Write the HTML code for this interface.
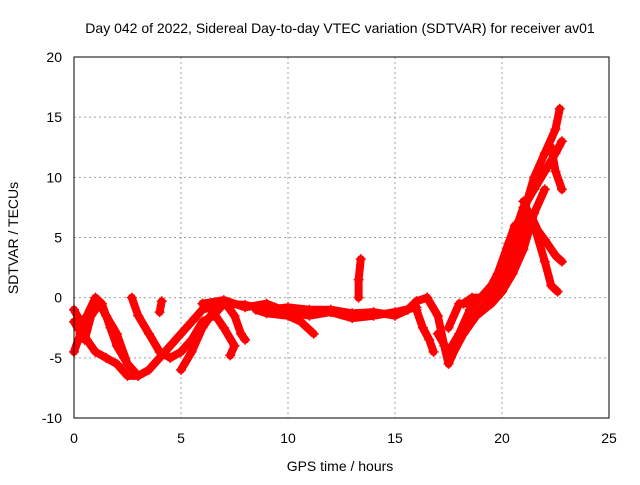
<!DOCTYPE html>
<html><head><meta charset="utf-8"><style>
body{margin:0;background:#fff}
svg{font-family:"Liberation Sans",sans-serif;font-size:14px}
</style></head><body>
<svg id="c" width="640" height="480">
<rect width="640" height="480" fill="#fff"/>
<text x="340" y="33" text-anchor="middle">Day 042 of 2022, Sidereal Day-to-day VTEC variation (SDTVAR) for receiver av01</text>
<g id="grid"></g>
<g id="marks"></g>
<rect x="74" y="57" width="535" height="361" fill="none" stroke="#000"/>
<g id="ticks"></g>
<text x="340" y="471" text-anchor="middle">GPS time / hours</text>
<text transform="translate(18,238) rotate(-90)" text-anchor="middle">SDTVAR / TECUs</text>
</svg>
<script>
const xTicks=[0,5,10,15,20,25];
const yTicks=[-10,-5,0,5,10,15,20];
const track1=[[0,-1],[0.3,-2],[0.6,-3.5],[1,-4.5],[1.5,-5],[2,-5.5],[2.5,-6.5],[3,-6.5],[3.5,-6],[4,-5],[4.5,-4],[5,-3],[5.5,-2],[6,-1],[7,-0.5],[8,-0.6],[9,-1],[10,-0.8],[11,-1],[12,-1],[13,-1.3],[14,-1.2],[15,-1.5],[15.6,-1],[16,-0.3],[16.5,0]];
const track2=[[0,-4.5],[0.3,-3],[0.6,-1.5],[1,0],[1.3,-0.5],[1.7,-2.5],[2,-4],[2.5,-5.5]];
const track3=[[0,-2],[0.5,-3.5],[0.8,-1.5],[1.2,-0.5],[1.5,-1.5],[2,-3],[2.5,-5.5],[3,-6.5]];
const track4=[[2.7,0],[3,-1.5],[3.5,-3],[4,-4.5],[4.5,-5],[5,-4.5],[5.5,-3.5],[6,-2],[6.5,-1.5],[7,-0.5]];
const track5=[[5,-6],[5.5,-4.5],[6,-2.5],[6.5,-1.2],[7,-2.5],[7.5,-4],[7.3,-4.8]];
const track6=[[7,-0.3],[7.5,-1.5],[7.8,-3],[8,-3.5]];
const track7=[[8.5,-1],[9,-1.3],[10,-1.5],[10.6,-2],[11.2,-3]];
const track8=[[13.3,0],[13.3,1.5],[13.4,3.2]];
const track9=[[4,-1.2],[4.1,-0.3]];
const track10=[[16.5,0],[17,-1.5],[17.3,-4],[17.5,-5.5],[18,-3.5],[18.5,-2],[19,-1],[19.5,0],[20,1.5],[20.5,4],[21,7],[21.5,10],[22,12],[22.5,14],[22.7,15.7]];
const track11=[[17,-3],[17.5,-4.5],[18,-3],[18.5,-1],[19,0],[19.5,1],[20,2.5],[20.5,5],[21,7.5],[21.5,9],[22,10.5],[22.5,12],[22.8,13]];
const track12=[[21,8],[21.5,6],[22,3],[22.3,1],[22.6,0.5]];
const track13=[[22.3,12.5],[22.5,10.5],[22.8,9]];
const track14=[[21.3,7],[21.7,5.5],[22,4.8],[22.5,3.5],[22.8,3]];
const track15=[[16,-1],[16.3,-2.5],[16.6,-3.5],[16.8,-4.5]];
const track16=[[17.5,-2.5],[18,-0.5],[18.5,-0.5],[19,-1],[19.5,-0.5],[20,1],[20.5,3],[21,5.5],[21.3,6.5]];
const track17=[[17.6,-5],[18.2,-3],[18.8,-1.5],[19.5,-0.5],[20,0.5],[20.5,2],[21,4],[21.5,7],[22,9]];
const track18=[[18.2,-0.5],[18.6,0],[19.2,0],[19.8,2],[20.3,4.5],[20.6,6],[21,6.5]];
const track19=[[6,-0.5],[7,-0.2],[8,-0.8],[9,-0.5],[10,-1.2],[11,-1.5],[12,-1.2],[13,-1.7],[14,-1.5],[15,-1.2],[16,-0.8]];
const tracks=[track1,track2,track3,track4,track5,track6,track7,track8,track9,track10,track11,track12,track13,track14,track15,track16,track17,track18,track19];
const X=t=>74+t*535/25, Y=v=>57+(20-v)*361/30;
const NS="http://www.w3.org/2000/svg";
const grid=document.getElementById('grid'),ticks=document.getElementById('ticks'),marks=document.getElementById('marks');
function mk(tag,a,p){const e=document.createElementNS(NS,tag);for(const k in a)e.setAttribute(k,a[k]);p.appendChild(e);return e;}
xTicks.forEach(t=>{
 if(t>0&&t<25){const g=mk('line',{x1:X(t),x2:X(t),y1:57,y2:418,stroke:'#a0a0a0','stroke-dasharray':'2,3'},grid);
 
 }
 const l=mk('text',{x:X(t),y:443,'text-anchor':'middle'},ticks);l.textContent=t;
 
 
});
yTicks.forEach(v=>{
 if(v>-10&&v<20){const g=mk('line',{x1:74,x2:609,y1:Y(v),y2:Y(v),stroke:'#a0a0a0','stroke-dasharray':'2,3'},grid);
 
 }
 const l=mk('text',{x:62,y:Y(v)+5,'text-anchor':'end'},ticks);l.textContent=v;
 
 
});
tracks.forEach(tr=>{
 const pl=mk('polyline',{points:tr.map(p=>X(p[0])+','+Y(p[1])).join(' '),fill:'none',stroke:'#f00','stroke-width':8,'stroke-linejoin':'round','stroke-linecap':'round'},marks);
 
 
 tr.forEach(p=>{const x=X(p[0]),y=Y(p[1]);
  const m=mk('path',{d:`M${x-5},${y}h10M${x},${y-5}v10`,stroke:'#f00','stroke-width':1.5},marks);
  
  });
});
</script>
</body></html>
